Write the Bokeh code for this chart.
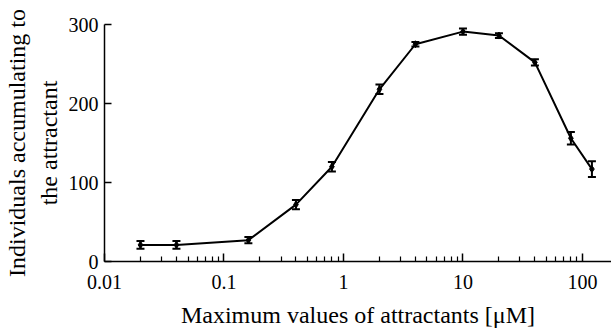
from bokeh.plotting import figure
from bokeh.models import ColumnDataSource, Whisker, TeeHead, Range1d, FixedTicker
from bokeh.embed import file_html
from bokeh.resources import INLINE

# data
conc = [0.02, 0.04, 0.16, 0.4, 0.8, 2, 4, 10, 20, 40, 80, 120]
count = [21, 21, 27, 72, 120, 218, 275, 291, 286, 252, 156, 117]
err = [5, 5, 4, 6, 6, 6, 3, 4, 3, 4, 8, 10]

x_ticks = [0.01, 0.1, 1, 10, 100]
x_tick_labels = ["0.01", "0.1", "1", "10", "100"]
y_ticks = [0, 100, 200, 300]

FONT = "Liberation Serif"

src = ColumnDataSource(dict(
    x=conc, y=count,
    lo=[c - e for c, e in zip(count, err)],
    hi=[c + e for c, e in zip(count, err)],
))

p = figure(width=611, height=333, x_axis_type="log",
           x_range=Range1d(0.01, 175), y_range=Range1d(0, 300),
           output_backend="svg", toolbar_location=None,
           min_border_left=104, min_border_right=0, min_border_top=24,
           min_border_bottom=72)

p.line("x", "y", source=src, line_color="black", line_width=2)
p.scatter("x", "y", source=src, marker="diamond", size=7, color="black")
w = Whisker(source=src, base="x", lower="lo", upper="hi", dimension="height",
            line_color="black", line_width=2,
            upper_head=TeeHead(size=8, line_color="black", line_width=2),
            lower_head=TeeHead(size=8, line_color="black", line_width=2))
p.add_layout(w)

minor = [m * 10 ** e for e in range(-2, 3) for m in range(2, 10) if m * 10 ** e < 175]
p.xaxis.ticker = FixedTicker(ticks=x_ticks, minor_ticks=minor)
p.xaxis.major_label_overrides = {t: l for t, l in zip(x_ticks, x_tick_labels)}
p.yaxis.ticker = FixedTicker(ticks=y_ticks)

for ax in (p.xaxis, p.yaxis):
    ax.axis_line_color = "black"
    ax.axis_line_width = 1.5
    ax.major_tick_line_color = "black"
    ax.major_tick_line_width = 1.5
    ax.minor_tick_line_color = "black"
    ax.minor_tick_line_width = 1.2
    ax.major_tick_out = 0
    ax.minor_tick_out = 0
    ax.major_label_text_font = FONT
    ax.major_label_text_font_size = "20px"
    ax.major_label_text_color = "black"
    ax.axis_label_text_font = FONT
    ax.axis_label_text_font_style = "normal"
    ax.axis_label_text_color = "black"

p.xaxis.major_tick_in = 8
p.xaxis.minor_tick_in = 5
p.yaxis.major_tick_in = 7
p.yaxis.minor_tick_line_color = None
p.xaxis.major_label_standoff = 13
p.yaxis.major_label_standoff = 6

p.xaxis.axis_label = "Maximum values of attractants [\u03bcM]"
p.xaxis.axis_label_text_font_size = "24px"
p.xaxis.axis_label_standoff = 10
p.yaxis.axis_label = "Individuals accumulating to\nthe attractant"
p.yaxis.axis_label_text_font_size = "24px"
p.yaxis.axis_label_standoff = 4

p.xgrid.grid_line_color = None
p.ygrid.grid_line_color = None
p.outline_line_color = None

open("out.html", "w").write(file_html(p, INLINE))
